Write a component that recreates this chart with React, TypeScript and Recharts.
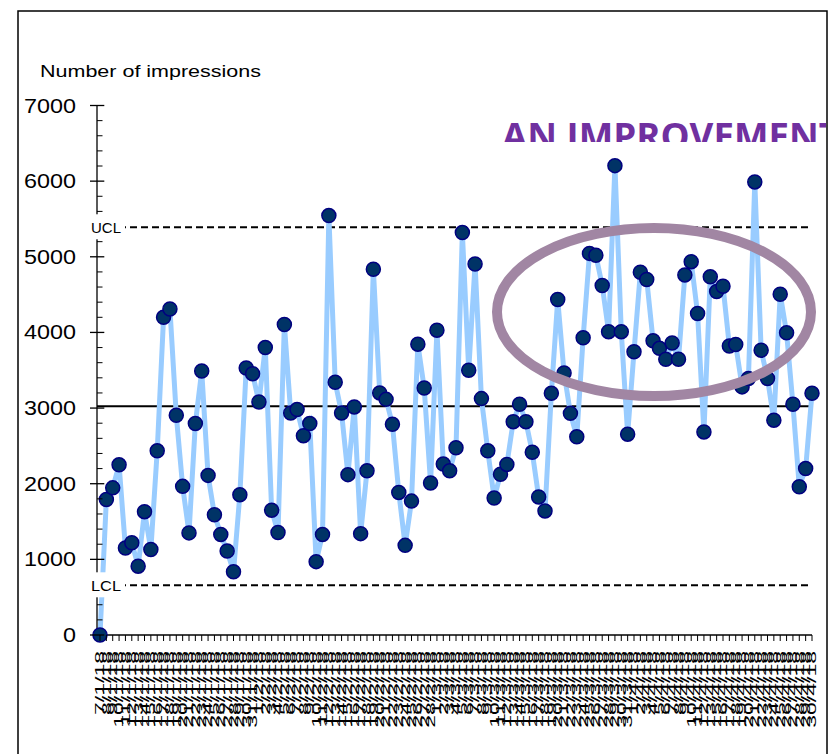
import React from "react";
import { LineChart, Line, XAxis, YAxis, ReferenceLine } from "recharts";

const dates = [
  "7/1/18","8/1/18","9/1/18","10/1/18","11/1/18","12/1/18","13/1/18","14/1/18","15/1/18","16/1/18",
  "17/1/18","18/1/18","19/1/18","20/1/18","21/1/18","22/1/18","23/1/18","24/1/18","25/1/18","26/1/18",
  "27/1/18","28/1/18","29/1/18","30/1/18","31/1/18",
  "1/2/18","2/2/18","3/2/18","4/2/18","5/2/18","6/2/18","7/2/18","8/2/18","9/2/18","10/2/18",
  "11/2/18","12/2/18","13/2/18","14/2/18","15/2/18","16/2/18","17/2/18","18/2/18","19/2/18","20/2/18",
  "21/2/18","22/2/18","23/2/18","24/2/18","25/2/18","26/2/18","27/2/18","28/2/18",
  "1/3/18","2/3/18","3/3/18","4/3/18","5/3/18","6/3/18","7/3/18","8/3/18","9/3/18","10/3/18",
  "11/3/18","12/3/18","13/3/18","14/3/18","15/3/18","16/3/18","17/3/18","18/3/18","19/3/18","20/3/18",
  "21/3/18","22/3/18","23/3/18","24/3/18","25/3/18","26/3/18","27/3/18","28/3/18","29/3/18","30/3/18","31/3/18",
  "1/4/18","2/4/18","3/4/18","4/4/18","5/4/18","6/4/18","7/4/18","8/4/18","9/4/18","10/4/18",
  "11/4/18","12/4/18","13/4/18","15/4/18","16/4/18","17/4/18","18/4/18","19/4/18","20/4/18",
  "21/4/18","22/4/18","23/4/18","24/4/18","25/4/18","26/4/18","27/4/18","28/4/18","29/4/18","30/4/18",
];

const impressions = [
  0, 1790, 1945, 2250, 1150, 1220, 910, 1630, 1130, 2435,
  4200, 4310, 2905, 1965, 1350, 2795, 3490, 2110, 1590, 1330,
  1110, 835, 1855, 3530, 3455, 3080, 3800, 1650, 1355, 4105,
  2935, 2980, 2635, 2795, 970, 1330, 5545, 3340, 2935, 2120,
  3015, 1340, 2170, 4835, 3200, 3115, 2785, 1885, 1185, 1770,
  3845, 3265, 2010, 4030, 2260, 2170, 2475, 5320, 3500, 4905,
  3125, 2435, 1810, 2125, 2255, 2820, 3050, 2820, 2415, 1825,
  1640, 3195, 4435, 3465, 2930, 2620, 3930, 5045, 5020, 4620,
  4010, 6205, 4010, 2655, 3745, 4795, 4700, 3890, 3790, 3645,
  3860, 3645, 4760, 4935, 4250, 2685, 4735, 4540, 4610, 3820,
  3840, 3280, 3390, 5990, 3765, 3390, 2840, 4505, 3995, 3050,
  1960, 2200, 3195,
];

const MEAN = 3023;
const UCL = 5390;
const LCL = 657;
const limitLabels = [
  { text: "UCL", value: UCL },
  { text: "LCL", value: LCL },
];

const Y_MAX = 7000;
const yMajorTicks = [0, 1000, 2000, 3000, 4000, 5000, 6000, 7000];
const yMinorStep = 200;
const yAllTicks: number[] = [];
for (let v = 0; v <= Y_MAX; v += yMinorStep) yAllTicks.push(v);

const data = dates.map((d, i) => ({ date: d, value: impressions[i] }));

const FONT = "'Liberation Sans', Arial, sans-serif";

// chart geometry
const W = 832;
const H = 754;
const M_TOP = 105.5;
const M_RIGHT = 20;
const Y_AXIS_W = 60;
const M_LEFT = 37;
const X_AXIS_H = 100;
const M_BOTTOM = 19;
const PLOT_LEFT = M_LEFT + Y_AXIS_W;
const PLOT_TOP = M_TOP;
const PLOT_H = H - M_TOP - M_BOTTOM - X_AXIS_H;
const yPix = (v: number) => PLOT_TOP + ((Y_MAX - v) / Y_MAX) * PLOT_H;

const XTick = (props: any) => {
  const { x, y, payload } = props;
  return (
    <g>
      <line x1={x} x2={x} y1={y} y2={y + 6} stroke="#000" strokeWidth={1} />
      <text
        transform={`translate(${x},${y + 16}) scale(0.55,1) rotate(-90)`}
        x={0}
        y={8}
        textAnchor="end"
        fontSize={23}
        fontFamily={FONT}
        fill="#000"
      >
        {payload.value}
      </text>
    </g>
  );
};

const YTick = (props: any) => {
  const { x, y, payload } = props;
  const v = payload.value as number;
  const major = yMajorTicks.includes(v);
  const s = String(v);
  return (
    <g>
      {major ? (
        <line x1={x - 7} x2={x + 7.3} y1={y} y2={y} stroke="#000" strokeWidth={1.3} />
      ) : (
        <line x1={x} x2={x + 5.5} y1={y} y2={y} stroke="#000" strokeWidth={1} />
      )}
      {major && (
        <text
          x={x - 21}
          y={y + 7}
          textAnchor="end"
          fontSize={19.5}
          fontFamily={FONT}
          fill="#000"
          textLength={13 * s.length}
          lengthAdjust="spacingAndGlyphs"
        >
          {s}
        </text>
      )}
    </g>
  );
};

export default function App() {
  return (
    <div style={{ position: "absolute", left: 0, top: 0, width: W, height: H, background: "#fff" }}>
      <LineChart
        width={W}
        height={H}
        data={data}
        margin={{ top: M_TOP, right: M_RIGHT, left: M_LEFT, bottom: M_BOTTOM }}
      >
        <XAxis
          dataKey="date"
          interval={0}
          tick={<XTick />}
          tickLine={false}
          tickSize={0}
          tickMargin={0}
          axisLine={{ stroke: "#000", strokeWidth: 1.3 }}
          height={X_AXIS_H}
          padding={{ left: 3, right: 0 }}
        />
        <YAxis
          domain={[0, Y_MAX]}
          ticks={yAllTicks}
          interval={0}
          tick={<YTick />}
          tickLine={false}
          tickSize={0}
          tickMargin={0}
          axisLine={{ stroke: "#000", strokeWidth: 1.3 }}
          width={Y_AXIS_W}
        />
        <ReferenceLine y={MEAN} stroke="#000" strokeWidth={2} />
        <ReferenceLine y={UCL} stroke="#000" strokeWidth={2} strokeDasharray="7 4" />
        <ReferenceLine y={LCL} stroke="#000" strokeWidth={2} strokeDasharray="7 4" />
        <Line
          dataKey="value"
          type="linear"
          stroke="#99CCFF"
          strokeWidth={5}
          dot={{ r: 7, fill: "#003366", stroke: "#000080", strokeWidth: 1.5 }}
          activeDot={false}
          isAnimationActive={false}
        />
      </LineChart>
      <svg
        width={W}
        height={H}
        style={{ position: "absolute", left: 0, top: 0, pointerEvents: "none" }}
      >
        <defs>
          <clipPath id="titleClip">
            <rect x={0} y={0} width={826} height={142} />
          </clipPath>
        </defs>
        {limitLabels.map((l) => {
          const y = yPix(l.value);
          return (
            <g key={l.text}>
              <rect x={PLOT_LEFT - 9} y={y - 13} width={37} height={25} fill="#fff" />
              <text
                x={PLOT_LEFT - 6}
                y={y + 5.5}
                fontSize={15}
                fontFamily={FONT}
                fill="#000"
                textLength={30}
                lengthAdjust="spacingAndGlyphs"
              >
                {l.text}
              </text>
            </g>
          );
        })}
        <text
          x={502}
          y={148.5}
          fill="#7030A0"
          fontSize={36}
          fontWeight={700}
          fontFamily="'Open Sans', Arial, sans-serif"
          textLength={338}
          lengthAdjust="spacingAndGlyphs"
          clipPath="url(#titleClip)"
        >
          AN IMPROVEMENT
        </text>
        <ellipse cx={654} cy={312} rx={157} ry={84} fill="none" stroke="#A186A3" strokeWidth={10} />
        <text x={40} y={76.7} fontSize={16.5} fontFamily={FONT} fill="#000" textLength={221} lengthAdjust="spacingAndGlyphs">
          Number of impressions
        </text>
        <rect x={18} y={11} width={809} height={780} fill="none" stroke="#000" strokeWidth={1.5} />
      </svg>
    </div>
  );
}
